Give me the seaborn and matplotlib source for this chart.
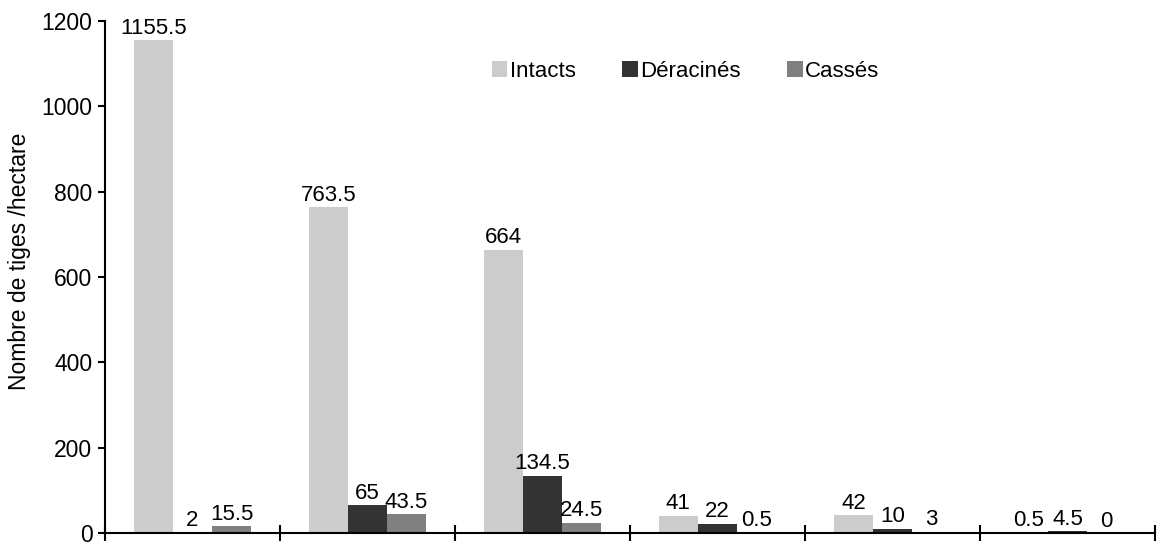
import matplotlib
matplotlib.use("Agg")
import matplotlib.pyplot as plt
import seaborn as sns
import pandas as pd

groups = ["1", "2", "3", "4", "5", "6"]
series = ["Intacts", "Déracinés", "Cassés"]
intacts = [1155.5, 763.5, 664, 41, 42, 0.5]
deracines = [2, 65, 134.5, 22, 10, 4.5]
casses = [15.5, 43.5, 24.5, 0.5, 3, 0]
y_ticks = [0, 200, 400, 600, 800, 1000, 1200]
y_label = "Nombre de tiges /hectare"

colors = ["#cccccc", "#333333", "#808080"]

sns.set_theme(style="white")
plt.rcParams["font.family"] = ["Liberation Sans", "DejaVu Sans"]
plt.rcParams["text.color"] = "black"
plt.rcParams["axes.labelcolor"] = "black"
plt.rcParams["xtick.color"] = "black"
plt.rcParams["ytick.color"] = "black"

df = pd.DataFrame({
    "groupe": groups * 3,
    "serie": [series[0]] * 6 + [series[1]] * 6 + [series[2]] * 6,
    "valeur": intacts + deracines + casses,
})

fig = plt.figure(figsize=(11.64, 5.45), dpi=100)
ax = fig.add_axes([0.0902, 0.0220, 0.9021, 0.9395])

sns.barplot(data=df, x="groupe", y="valeur", hue="serie", order=groups,
            hue_order=series, palette=colors, width=0.67, gap=0,
            saturation=1, ax=ax, errorbar=None, linewidth=0)

vals = [intacts, deracines, casses]
for cont, v in zip(ax.containers, vals):
    ax.bar_label(cont, labels=[f"{x:g}" for x in v], padding=1, fontsize=16,
                 color="black")

ax.set_ylim(0, 1200)
ax.set_xlim(-0.5, len(groups) - 0.5)
ax.set_yticks(y_ticks)
ax.set_yticklabels([str(t) for t in y_ticks], fontsize=16.5)
ax.set_xticks([i - 0.5 for i in range(len(groups) + 1)])
ax.set_xticklabels([])
ax.tick_params(axis="x", direction="inout", length=12, width=1.5, bottom=True)
ax.tick_params(axis="y", direction="out", length=5, width=1.5, left=True, pad=4)
ax.set_xlabel("")
ax.set_ylabel(y_label, fontsize=16.5)
ax.yaxis.set_label_coords(-0.0705, 0.531)

for s in ["top", "right"]:
    ax.spines[s].set_visible(False)
for s in ["left", "bottom"]:
    ax.spines[s].set_color("black")
    ax.spines[s].set_linewidth(1.5)

leg = ax.legend(loc="upper left", bbox_to_anchor=(0.36, 0.94), ncol=3,
                frameon=False, fontsize=16, handlelength=0.7, handleheight=0.7,
                handletextpad=0.1, columnspacing=2.1, borderaxespad=0)

fig.savefig("out.png", dpi=100)
